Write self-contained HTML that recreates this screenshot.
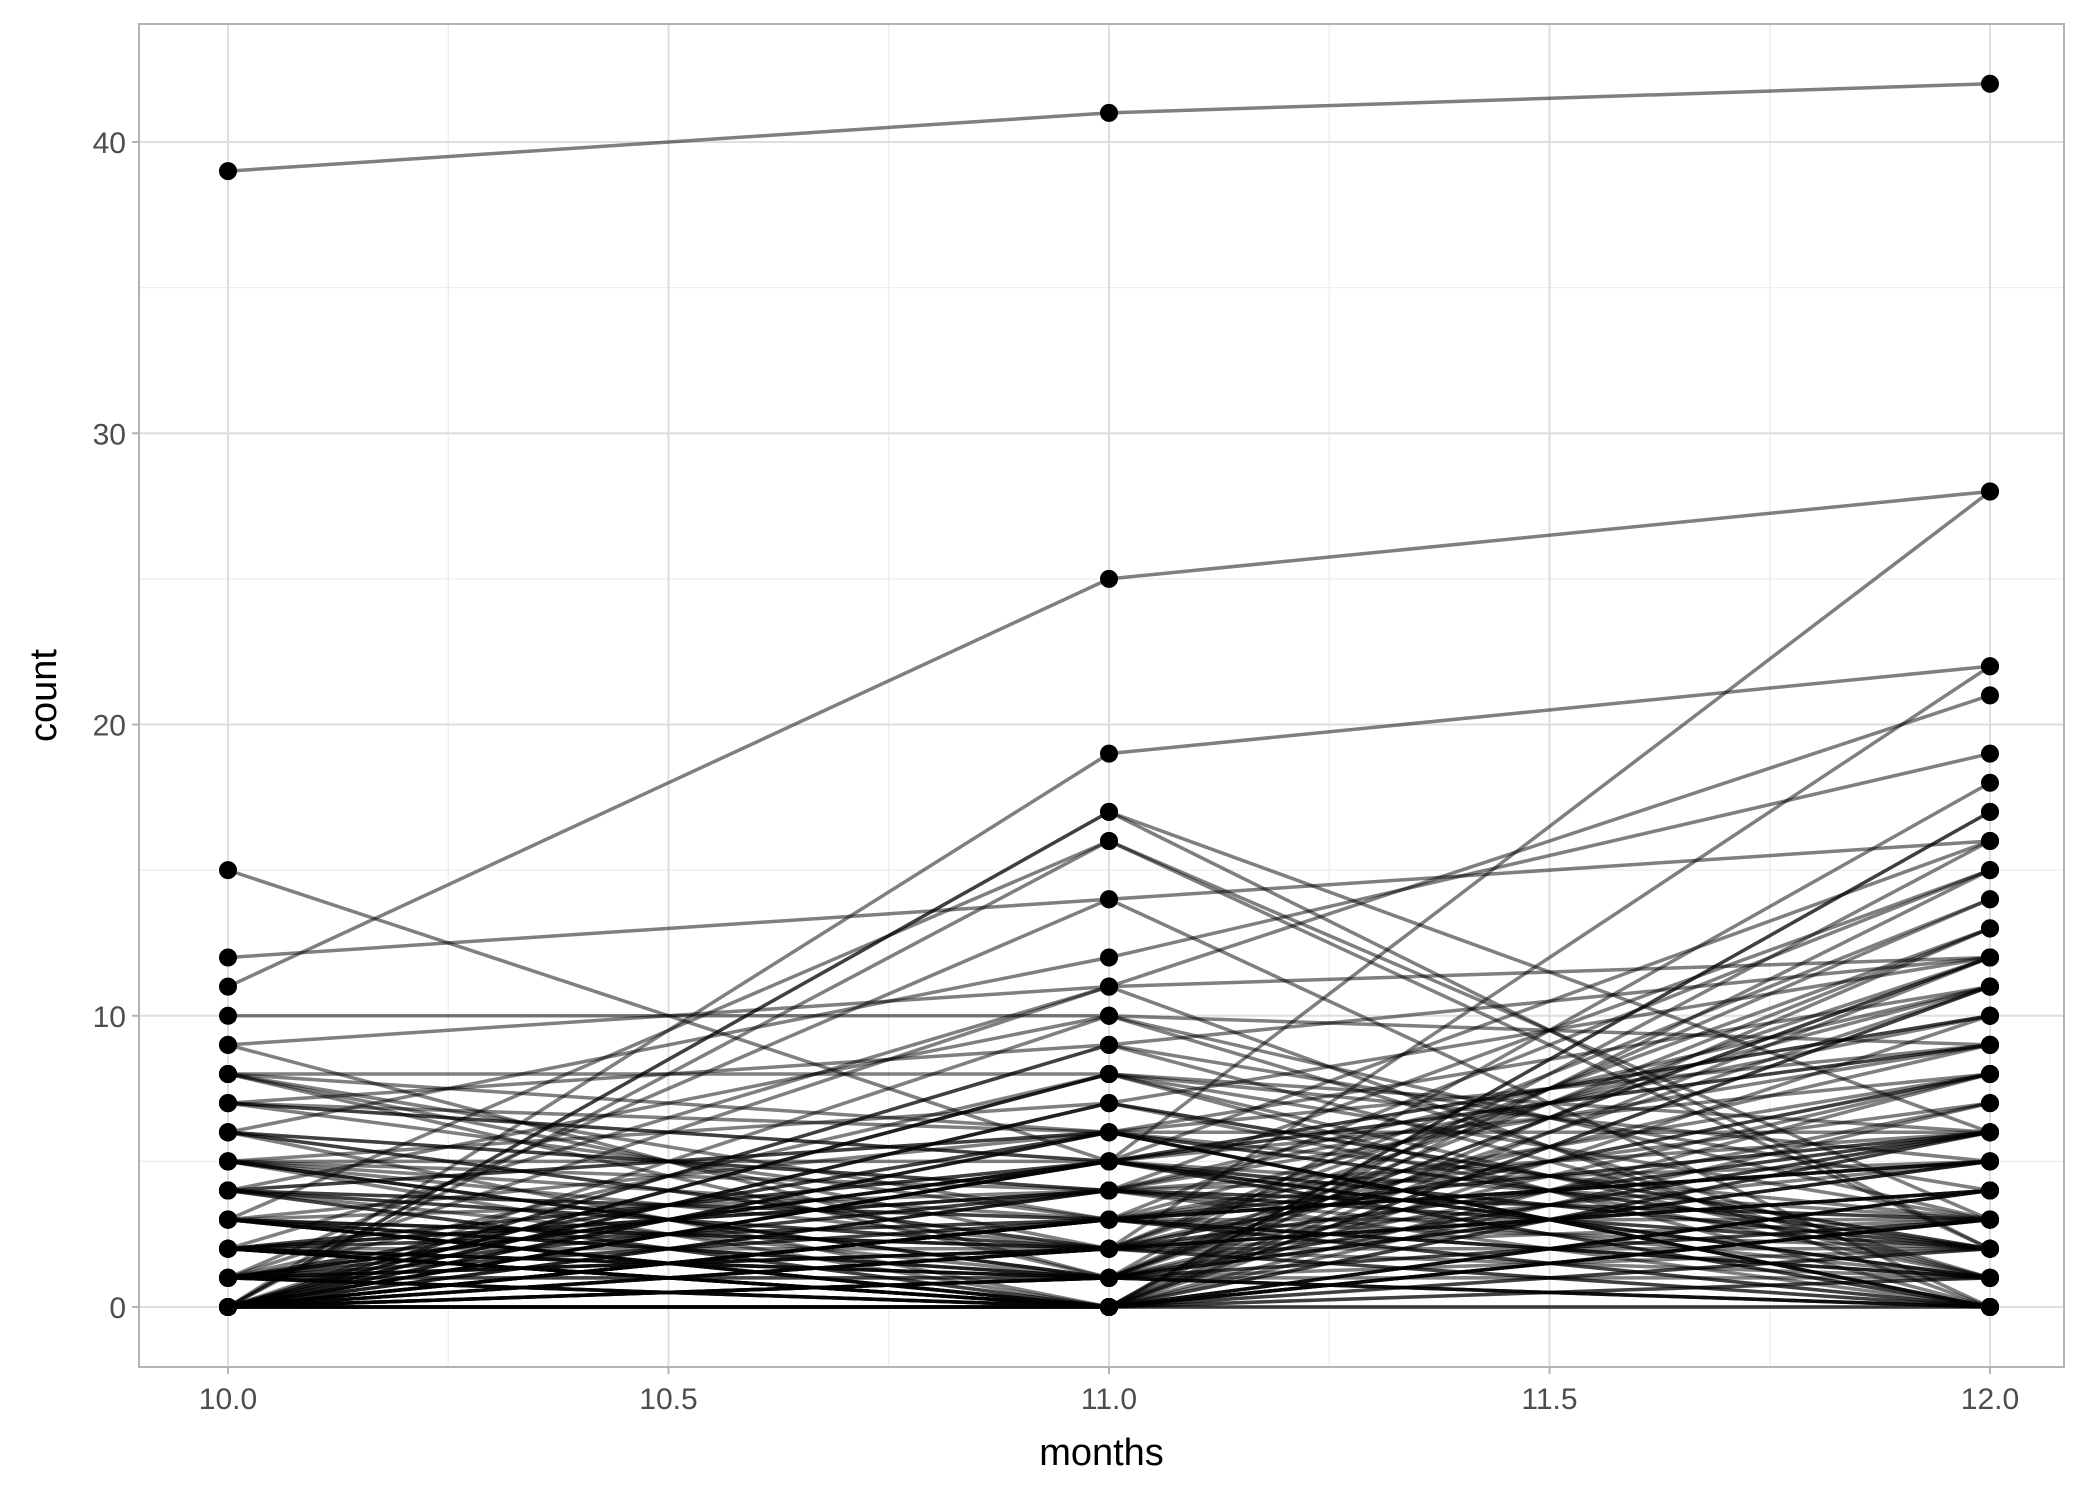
<!DOCTYPE html>
<html><head><meta charset="utf-8"><style>
html,body{margin:0;padding:0;background:#fff;}
svg{display:block;font-family:"Liberation Sans",sans-serif;}
</style></head><body>
<svg id="chart" width="2100" height="1500"></svg>
<script>
const months = [10, 11, 12];
const xTicks = [10.0, 10.5, 11.0, 11.5, 12.0];
const xTickLabels = ["10.0", "10.5", "11.0", "11.5", "12.0"];
const yTicks = [0, 10, 20, 30, 40];
const yTickLabels = ["0", "10", "20", "30", "40"];
const count10 = [39,11,12,15,10,0,0,0,9,8,8,7,7,6,6,5,5,5,4,4,4,3,3,3,3,2,2,2,2,2,1,1,1,1,1,0,0,0,0,0,0,0,0,0,9,8,7,6,5,4,3,2,1,0,0,0,2,3,1,0,0,4,5,2,1,0,0,3,6,0,1,2,0,0,1,0,2,0,1,0,
 8,7,6,5,4,3,2,1,0,0,0,1,2,3,4,5,0,1,2,0,3,0,1,2,0,4,0,1,5,2,0,3,1,0,6,2,0,1,0,7,3,0,1,2,0,4,0,1,0,2,8,0,1,3,0,2,0,5,1,0,0,2,1,0,3,0,1,0,4,0];
const count11 = [41,25,14,5,10,19,17,17,11,6,8,9,5,12,4,7,3,5,10,3,2,16,4,6,1,5,11,3,1,0,14,8,2,5,0,6,4,3,2,1,0,9,5,0,1,2,3,4,1,6,0,2,5,0,1,2,4,0,3,16,0,1,2,5,0,3,8,1,2,7,4,0,1,2,0,6,1,0,1,0,
 3,5,2,1,6,0,4,3,9,7,5,2,1,0,3,4,10,6,0,2,1,5,4,0,8,2,3,6,1,0,5,2,11,3,0,4,7,0,1,6,2,0,5,3,1,0,4,2,3,0,1,5,0,2,6,1,3,0,2,4,1,0,5,3,0,2,1,8,0,3];
const count12 = [42,28,16,3,9,22,2,6,21,3,5,12,0,19,10,2,15,8,1,6,4,3,11,0,5,28,12,2,18,17,0,6,14,1,13,9,3,0,22,11,12,1,16,15,6,2,8,5,3,0,4,1,10,7,12,9,2,3,5,2,4,13,6,0,17,11,3,0,5,1,6,3,0,8,4,2,1,11,14,3,
 5,2,8,6,0,3,9,1,4,12,10,0,5,2,7,1,3,11,6,4,0,2,15,8,1,3,0,6,12,2,9,4,0,5,1,3,2,16,7,0,4,11,1,3,0,6,2,13,5,0,8,1,4,0,2,3,6,1,12,0,5,3,9,1,0,6,2,0,10,1];

const NS="http://www.w3.org/2000/svg";
const svg=document.getElementById('chart');
const L=139,R=2064,T=24,B=1367;
const xs=v=>228+(v-10)*(1990-228)/2;
const ys=v=>1307-v*(1307-142)/40;
function mk(tag,attrs,parent){const e=document.createElementNS(NS,tag);for(const k in attrs)e.setAttribute(k,attrs[k]);(parent||svg).appendChild(e);return e;}

const grid=mk('g',{});


[10.25,10.75,11.25,11.75].forEach(v=>mk('line',{x1:xs(v),x2:xs(v),y1:T,y2:B,stroke:'#ededed','stroke-width':1.3},grid));
[5,15,25,35].forEach(v=>mk('line',{x1:L,x2:R,y1:ys(v),y2:ys(v),stroke:'#ededed','stroke-width':1.3},grid));
xTicks.forEach(v=>mk('line',{x1:xs(v),x2:xs(v),y1:T,y2:B,stroke:'#dedede','stroke-width':2},grid));
yTicks.forEach(v=>mk('line',{x1:L,x2:R,y1:ys(v),y2:ys(v),stroke:'#dedede','stroke-width':2},grid));

const lines=mk('g',{});


const pts=mk('g',{});


for(let i=0;i<count10.length;i++){
  const vals=[count10[i],count11[i],count12[i]];
  const p=mk('polyline',{points:vals.map((v,j)=>xs(months[j])+','+ys(v)).join(' '),fill:'none',stroke:'rgba(0,0,0,0.5)','stroke-width':3.5},lines);
  
  
  vals.forEach((v,j)=>{
    const c=mk('circle',{cx:xs(months[j]),cy:ys(v),r:9,fill:'#000'},pts);
    
    
  });
}
svg.appendChild(pts);

const border=mk('rect',{x:L,y:T,width:R-L,height:B-T,fill:'none',stroke:'#b3b3b3','stroke-width':2});



xTicks.forEach((v,i)=>{
  mk('line',{x1:xs(v),x2:xs(v),y1:B,y2:B+7,stroke:'#b3b3b3','stroke-width':2});
  const t=mk('text',{x:xs(v),y:B+42,'text-anchor':'middle','font-size':30,fill:'#4d4d4d'});
  t.textContent=xTickLabels[i];
  
  
});
yTicks.forEach((v,i)=>{
  mk('line',{x1:L-7,x2:L,y1:ys(v),y2:ys(v),stroke:'#b3b3b3','stroke-width':2});
  const t=mk('text',{x:L-13,y:ys(v)+11,'text-anchor':'end','font-size':30,fill:'#4d4d4d'});
  t.textContent=yTickLabels[i];
  
  
});
const xt=mk('text',{x:(L+R)/2,y:1465,'text-anchor':'middle','font-size':38,fill:'#000'});
xt.textContent='months';


const yt=mk('text',{x:0,y:0,'text-anchor':'middle','font-size':38,fill:'#000',transform:'translate(56,'+((T+B)/2)+') rotate(-90)'});
yt.textContent='count';


</script>
</body></html>
